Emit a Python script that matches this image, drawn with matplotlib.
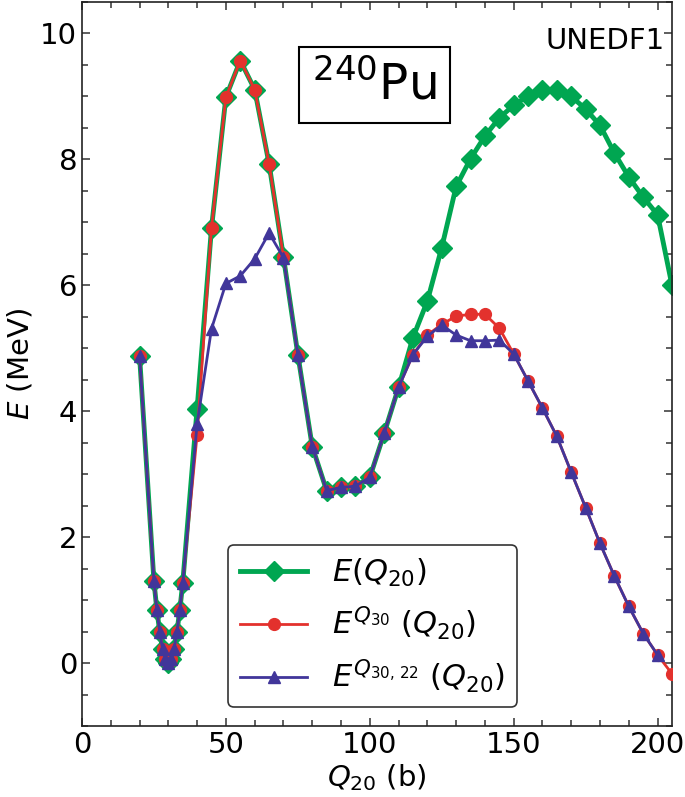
import matplotlib
matplotlib.use('Agg')
import matplotlib.pyplot as plt
from matplotlib.ticker import MultipleLocator

# Q20 (b) grid
q_full = [20, 25, 26, 27, 28, 29, 30, 31, 32, 33, 34, 35, 40, 45, 50, 55, 60, 65, 70, 75,
          80, 85, 90, 95, 100, 105, 110, 115, 120, 125, 130, 135, 140, 145, 150, 155,
          160, 165, 170, 175, 180, 185, 190, 195, 200, 205]

# E(Q20) - full constrained curve
e_full = [4.88, 1.30, 0.85, 0.50, 0.22, 0.06, 0.00, 0.06, 0.22, 0.50, 0.85, 1.27,
          4.04, 6.91, 8.99, 9.57, 9.11, 7.93, 6.45, 4.90, 3.44, 2.74, 2.79, 2.81,
          2.95, 3.65, 4.38, 5.17, 5.75, 6.60, 7.57, 8.01, 8.37, 8.66, 8.86, 9.01,
          9.10, 9.10, 9.00, 8.80, 8.54, 8.10, 7.72, 7.40, 7.12, 6.00]

# E^{Q30}(Q20)
q_q30 = q_full
e_q30 = [4.88, 1.30, 0.85, 0.50, 0.22, 0.06, 0.00, 0.06, 0.22, 0.50, 0.85, 1.27,
         3.63, 6.91, 8.99, 9.57, 9.11, 7.93, 6.45, 4.90, 3.44, 2.74, 2.79, 2.81,
         2.95, 3.65, 4.38, 4.90, 5.21, 5.38, 5.51, 5.54, 5.54, 5.32, 4.91, 4.48,
         4.05, 3.60, 3.03, 2.47, 1.90, 1.38, 0.90, 0.47, 0.13, -0.17]

# E^{Q30,22}(Q20)
q_q3022 = q_full[:-1]
e_q3022 = [4.88, 1.30, 0.85, 0.50, 0.22, 0.06, 0.00, 0.06, 0.22, 0.50, 0.85, 1.27,
           3.80, 5.31, 6.03, 6.15, 6.42, 6.83, 6.44, 4.90, 3.44, 2.74, 2.79, 2.81,
           2.95, 3.65, 4.38, 4.90, 5.19, 5.37, 5.21, 5.12, 5.12, 5.13, 4.91, 4.48,
           4.05, 3.60, 3.03, 2.47, 1.90, 1.38, 0.90, 0.47, 0.13]

green = '#00a651'
red = '#e3312d'
blue = '#41369a'

fig = plt.figure(figsize=(6.85, 7.97), dpi=100)
ax = fig.add_axes([0.1197, 0.089, 0.8613, 0.9085])

ax.plot(q_full, e_full, color=green, lw=3.5, marker='D', ms=10,
        mec=green, mfc=green, label=r'$E(Q_{20})$', zorder=2)
ax.plot(q_q30, e_q30, color=red, lw=2, marker='o', ms=8.5,
        mec=red, mfc=red, label=r'$E^{Q_{30}}\ (Q_{20})$', zorder=3)
ax.plot(q_q3022, e_q3022, color=blue, lw=2, marker='^', ms=8,
        mec=blue, mfc=blue, label=r'$E^{Q_{30,\,22}}\ (Q_{20})$', zorder=4)

ax.set_xlim(0, 205)
ax.set_ylim(-1, 10.5)
ax.xaxis.set_major_locator(MultipleLocator(50))
ax.xaxis.set_minor_locator(MultipleLocator(10))
ax.yaxis.set_major_locator(MultipleLocator(2))
ax.yaxis.set_minor_locator(MultipleLocator(0.5))
ax.tick_params(which='both', direction='in', top=True, right=True,
               labelsize=21, width=1.1, color='#333333')
ax.tick_params(which='major', length=6)
ax.tick_params(which='minor', length=4)
for s in ax.spines.values():
    s.set_linewidth(1.2)
    s.set_color('#222222')

ax.set_xlabel(r'$Q_{20}$ (b)', fontsize=21, labelpad=2)
ax.set_ylabel(r'$E$ (MeV)', fontsize=21, labelpad=4)

ax.text(0.988, 0.966, 'UNEDF1', transform=ax.transAxes, ha='right', va='top',
        fontsize=21)
ax.text(0.496, 0.885, r'$^{240}$Pu', transform=ax.transAxes, ha='center',
        va='center', fontsize=35,
        bbox=dict(boxstyle='square,pad=0.28', fc='white', ec='black', lw=1.5))

leg = ax.legend(loc='lower left', bbox_to_anchor=(0.247, 0.026),
                borderaxespad=0, fontsize=22, handlelength=2.2,
                labelspacing=0.5, fancybox=True, framealpha=1,
                edgecolor='#333333')
leg.get_frame().set_linewidth(1.2)

fig.savefig('out.png', dpi=100)
